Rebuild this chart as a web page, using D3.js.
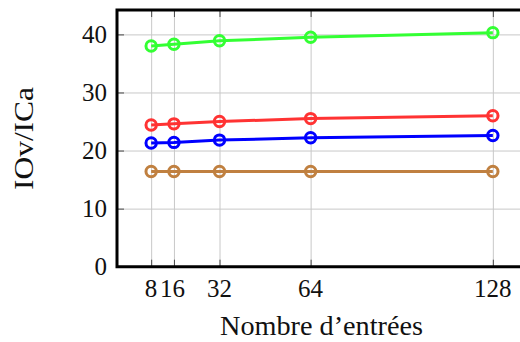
<!DOCTYPE html>
<html>
<head>
<meta charset="utf-8">
<script src="https://cdn.jsdelivr.net/npm/d3@7"></script>
<style>
  html, body { margin: 0; padding: 0; background: #fff; }
  svg { display: block; font-family: "Liberation Serif", "DejaVu Serif", serif; }
</style>
</head>
<body>
<svg id="chart" width="520" height="342"></svg>
<script>
// Number of inputs on the x axis
const entries = [8, 16, 32, 64, 128];
const xTicks = [8, 16, 32, 64, 128];
const yTicks = [0, 10, 20, 30, 40];

// IOv/ICa ratio for each configuration
const seriesGreen = [38.0, 38.3, 38.9, 39.5, 40.3];
const seriesRed   = [24.4, 24.6, 25.0, 25.5, 26.0];
const seriesBlue  = [21.3, 21.4, 21.8, 22.2, 22.6];
const seriesBrown = [16.4, 16.4, 16.4, 16.4, 16.4];

const seriesColors = ["#33ff33", "#ff3333", "#0000ff", "#c08040"];
const allSeries = [seriesGreen, seriesRed, seriesBlue, seriesBrown];

const svg = d3.select("#chart");
const pLeft = 117, pRight = 527, pTop = 10, pBottom = 266.7;

const x = d3.scaleLinear().domain([-4, 140]).range([pLeft, pRight]);
const y = d3.scaleLinear().domain([0, 44.2]).range([pBottom, pTop]);

// grid
svg.append("g")
  .attr("transform", `translate(0,${pBottom})`)
  .call(d3.axisBottom(x).tickValues(xTicks).tickSize(-(pBottom - pTop)).tickFormat(""))
  .call(g => g.select(".domain").remove())
  .call(g => g.selectAll("line").attr("stroke", "#c8c8c8").attr("stroke-width", 1));
svg.append("g")
  .attr("transform", `translate(${pLeft},0)`)
  .call(d3.axisLeft(y).tickValues(yTicks).tickSize(-(pRight - pLeft)).tickFormat(""))
  .call(g => g.select(".domain").remove())
  .call(g => g.selectAll("line").attr("stroke", "#c8c8c8").attr("stroke-width", 1));

// inward tick marks on all four sides
const tickLen = 7;
const tickColor = "#4a4a4a";
svg.append("g").attr("transform", `translate(0,${pBottom})`)
  .call(d3.axisTop(x).tickValues(xTicks).tickSize(tickLen).tickFormat(""))
  .call(g => g.select(".domain").remove())
  .call(g => g.selectAll("line").attr("stroke", tickColor));
svg.append("g").attr("transform", `translate(0,${pTop})`)
  .call(d3.axisBottom(x).tickValues(xTicks).tickSize(tickLen).tickFormat(""))
  .call(g => g.select(".domain").remove())
  .call(g => g.selectAll("line").attr("stroke", tickColor));
svg.append("g").attr("transform", `translate(${pLeft},0)`)
  .call(d3.axisRight(y).tickValues(yTicks).tickSize(tickLen).tickFormat(""))
  .call(g => g.select(".domain").remove())
  .call(g => g.selectAll("line").attr("stroke", tickColor));
svg.append("g").attr("transform", `translate(${pRight},0)`)
  .call(d3.axisLeft(y).tickValues(yTicks).tickSize(tickLen).tickFormat(""))
  .call(g => g.select(".domain").remove())
  .call(g => g.selectAll("line").attr("stroke", tickColor));

// tick labels
svg.append("g").selectAll("text").data(yTicks).join("text")
  .attr("x", 107).attr("y", d => y(d) + 8.7)
  .attr("text-anchor", "end").attr("font-size", 25).attr("fill", "#111")
  .text(d => d);
const xLabelPos = {8: 151, 16: 172.5};
svg.append("g").selectAll("text").data(xTicks).join("text")
  .attr("x", d => xLabelPos[d] !== undefined ? xLabelPos[d] : x(d))
  .attr("y", pBottom + 30)
  .attr("text-anchor", "middle").attr("font-size", 25).attr("fill", "#111")
  .text(d => d);

// axis titles
svg.append("text")
  .attr("x", 321.5).attr("y", 335)
  .attr("text-anchor", "middle").attr("font-size", 27).attr("fill", "#111")
  .attr("textLength", 203).attr("lengthAdjust", "spacingAndGlyphs")
  .text("Nombre d’entrées");
svg.append("text")
  .attr("transform", "translate(33,138.5) rotate(-90)")
  .attr("text-anchor", "middle").attr("font-size", 27).attr("fill", "#111")
  .attr("textLength", 103).attr("lengthAdjust", "spacingAndGlyphs")
  .text("IOv/ICa");

// series lines and circle markers
const line = d3.line().x((d, i) => x(entries[i])).y(d => y(d));
allSeries.forEach((s, k) => {
  const g = svg.append("g");
  g.append("path").datum(s).attr("d", line)
    .attr("fill", "none").attr("stroke", seriesColors[k]).attr("stroke-width", 3);
  g.selectAll("circle").data(s).join("circle")
    .attr("cx", (d, i) => x(entries[i])).attr("cy", d => y(d)).attr("r", 5.2)
    .attr("fill", "none").attr("stroke", seriesColors[k]).attr("stroke-width", 3);
});

// frame (left, bottom, top)
svg.append("path")
  .attr("d", `M${pRight},${pTop}H${pLeft}V${pBottom}H${pRight}`)
  .attr("fill", "none").attr("stroke", "#000").attr("stroke-width", 3);
</script>
</body>
</html>
